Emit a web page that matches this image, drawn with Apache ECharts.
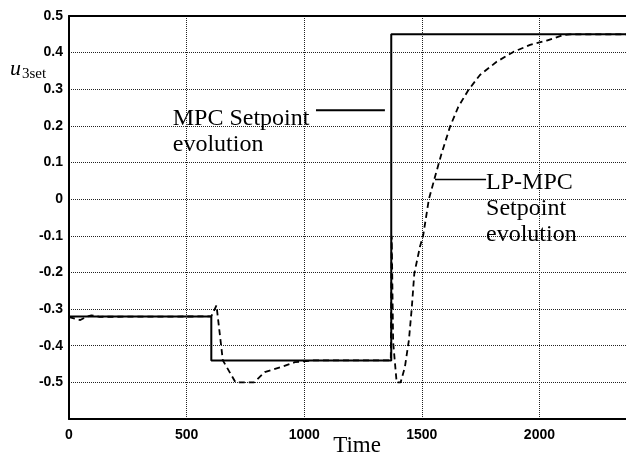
<!DOCTYPE html>
<html><head><meta charset="utf-8">
<script src="https://cdn.jsdelivr.net/npm/echarts@6/dist/echarts.min.js"></script>
<style>html,body{margin:0;padding:0;background:#fff}#c{width:626px;height:455px}</style>
</head><body><div id="c"></div>
<script>
// ---- data ----
const xTickLabels = ['0', '500', '1000', '1500', '2000'];
const yTickLabels = ['-0.5', '-0.4', '-0.3', '-0.2', '-0.1', '0', '0.1', '0.2', '0.3', '0.4', '0.5'];
const mpcTime  = [0, 605, 605, 1370, 1370, 2368];
const mpcValue = [-0.32, -0.32, -0.44, -0.44, 0.45, 0.45];
const lpTime  = [0, 25, 48, 70, 95, 130, 605, 627, 654, 708, 787, 832, 903, 960, 1040, 1368, 1372, 1378, 1393, 1410, 1428, 1445, 1457, 1468, 1492, 1506, 1530, 1556, 1584, 1620, 1655, 1698, 1747, 1818, 1889, 1960, 2031, 2102, 2130, 2368];
const lpValue = [-0.322, -0.326, -0.33, -0.322, -0.317, -0.321, -0.32, -0.29, -0.44, -0.5, -0.5, -0.472, -0.458, -0.445, -0.44, -0.44, -0.1, -0.39, -0.5, -0.5, -0.458, -0.385, -0.299, -0.203, -0.13, -0.098, 0.0, 0.061, 0.125, 0.198, 0.252, 0.298, 0.339, 0.375, 0.402, 0.421, 0.433, 0.448, 0.45, 0.45];
const annoMpcText = ['MPC Setpoint', 'evolution'];
const annoLpText = ['LP-MPC', 'Setpoint', 'evolution'];

const X_MAX = 2368;
const chart = echarts.init(document.getElementById('c'), null, {renderer: 'canvas'});
const zip = (a, b) => a.map((v, i) => [v, b[i]]);
const serif = '"Liberation Serif","Times New Roman",serif';
const sans = '"Liberation Sans",Arial,sans-serif';
const grid = {color: '#222', width: 1, type: [1, 1]};

chart.setOption({
  animation: false,
  backgroundColor: '#fff',
  grid: {left: 69, top: 16, right: 0, bottom: 36, show: false},
  xAxis: [{
    type: 'value', min: 0, max: X_MAX, interval: 500,
    axisLine: {show: true, onZero: false, lineStyle: {color: '#000', width: 2}},
    axisTick: {show: false},
    splitLine: {show: true, lineStyle: grid},
    axisLabel: {color: '#000', fontFamily: sans, fontSize: 14, fontWeight: 'bold', margin: 9, showMaxLabel: false,
      formatter: v => { const i = Math.round(v / 500); return (Math.abs(v - i * 500) < 1e-6 && xTickLabels[i] !== undefined) ? xTickLabels[i] : ''; }}
  }, {
    type: 'value', position: 'top', min: 0, max: X_MAX,
    axisLine: {show: true, onZero: false, lineStyle: {color: '#000', width: 2}},
    axisTick: {show: false}, axisLabel: {show: false}, splitLine: {show: false}
  }],
  yAxis: {
    type: 'value', min: -0.6, max: 0.5, interval: 0.1,
    axisLine: {show: true, onZero: false, lineStyle: {color: '#000', width: 2}},
    axisTick: {show: false},
    splitLine: {show: true, lineStyle: grid},
    axisLabel: {color: '#000', fontFamily: sans, fontSize: 14, fontWeight: 'bold', margin: 6,
      formatter: v => { const i = Math.round((v + 0.5) * 10); return (i >= 0 && yTickLabels[i] !== undefined) ? yTickLabels[i] : ''; }}
  },
  series: [
    {name: 'MPC', type: 'line', data: zip(mpcTime, mpcValue), showSymbol: false, lineStyle: {color: '#000', width: 2}, z: 3},
    {name: 'LP-MPC', type: 'line', data: zip(lpTime, lpValue), showSymbol: false, smooth: false, lineStyle: {color: '#000', width: 1.8, type: [6, 4]}, z: 4}
  ]
});

function px(t, v) { return chart.convertToPixel({xAxisIndex: 0, yAxisIndex: 0}, [t, v]); }
const g = [];
const serifText = (txt, p, size) => ({type: 'text', x: p[0], y: p[1], style: {text: txt, fontFamily: serif, fontSize: size, fill: '#000', verticalAlign: 'middle'}, z: 10});
// MPC annotation
g.push(serifText(annoMpcText[0], px(441, 0.219), 24));
g.push(serifText(annoMpcText[1], px(441, 0.150), 24));
let a = px(1050, 0.243), b = px(1343, 0.243);
g.push({type: 'line', shape: {x1: a[0], y1: a[1], x2: b[0], y2: b[1]}, style: {stroke: '#000', lineWidth: 2}, z: 10});
// LP-MPC annotation
g.push(serifText(annoLpText[0], px(1773, 0.046), 24));
g.push(serifText(annoLpText[1], px(1773, -0.025), 24));
g.push(serifText(annoLpText[2], px(1773, -0.096), 24));
a = px(1556, 0.054); b = px(1773, 0.054);
g.push({type: 'line', shape: {x1: a[0], y1: a[1], x2: b[0], y2: b[1]}, style: {stroke: '#000', lineWidth: 1.5}, z: 10});
// axis names
g.push({type: 'text', x: 10, y: 69, style: {text: 'u', fontFamily: serif, fontStyle: 'italic', fontSize: 22, fill: '#000', verticalAlign: 'middle'}, z: 10});
g.push({type: 'text', x: 22, y: 74, style: {text: '3set', fontFamily: serif, fontSize: 15, fill: '#000', verticalAlign: 'middle'}, z: 10});
g.push({type: 'text', x: 357, y: 446, style: {text: 'Time', fontFamily: serif, fontSize: 23, fill: '#000', align: 'center', verticalAlign: 'middle'}, z: 10});
chart.setOption({graphic: g});
</script></body></html>
